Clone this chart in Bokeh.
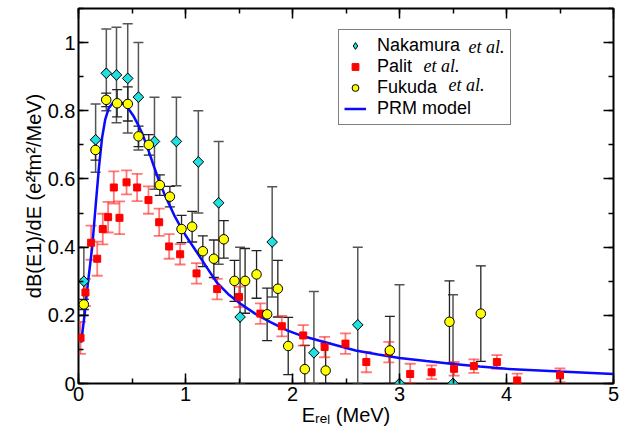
import math
from bokeh.plotting import figure
from bokeh.models import (ColumnDataSource, Whisker, TeeHead, LinearAxis, Range1d,
                          SingleIntervalTicker, Legend, LegendItem, Label, CustomJSTickFormatter)
from bokeh.embed import file_html
from bokeh.resources import INLINE

# ---- data ----
nak_x = [0.05, 0.16, 0.26, 0.355, 0.46, 0.56, 0.71, 0.915, 1.12, 1.31, 1.51, 1.81, 2.2, 2.61, 3.0, 3.5]
nak_y = [0.30, 0.715, 0.91, 0.905, 0.895, 0.84, 0.71, 0.71, 0.65, 0.53, 0.195, 0.415, 0.09, 0.172, 0.0, 0.0]
nak_lo = [0.20, 0.62, 0.80, 0.765, 0.735, 0.685, 0.57, 0.58, 0.50, 0.35, 0.0, 0.254, 0.0, 0.0, 0.0, 0.0]
nak_hi = [0.40, 0.82, 1.04, 1.045, 1.055, 1.0, 0.84, 0.84, 0.80, 0.71, 0.40, 0.577, 0.27, 0.40, 0.29, 0.26]

pal_x = [0.019, 0.065, 0.118, 0.175, 0.227, 0.277, 0.33, 0.383, 0.449, 0.548, 0.654, 0.754, 0.847,
         0.95, 1.103, 1.296, 1.50, 1.70, 1.90, 2.10, 2.30, 2.495, 2.69, 2.90, 3.10, 3.30, 3.51,
         3.695, 3.91, 4.10, 4.50]
pal_y = [0.134, 0.267, 0.413, 0.366, 0.453, 0.488, 0.575, 0.486, 0.59, 0.575, 0.538, 0.473, 0.402,
         0.379, 0.323, 0.277, 0.254, 0.205, 0.168, 0.141, 0.107, 0.117, 0.063, 0.092, 0.028, 0.033,
         0.043, 0.051, 0.063, 0.009, 0.024]
pal_err = [0.047, 0.04, 0.05, 0.05, 0.045, 0.045, 0.047, 0.048, 0.035, 0.04, 0.04, 0.04, 0.036,
           0.03, 0.03, 0.03, 0.03, 0.03, 0.03, 0.03, 0.03, 0.03, 0.03, 0.03, 0.03, 0.02, 0.02,
           0.02, 0.02, 0.02, 0.02]

fuk_x = [0.05, 0.159, 0.259, 0.361, 0.461, 0.561, 0.657, 0.76, 0.854, 0.963, 1.062, 1.162, 1.265,
         1.358, 1.458, 1.557, 1.664, 1.763, 1.863, 1.96, 2.115, 2.31, 2.91, 3.467, 3.76]
fuk_y = [0.232, 0.685, 0.832, 0.822, 0.82, 0.725, 0.70, 0.582, 0.548, 0.453, 0.46, 0.388, 0.366,
         0.423, 0.301, 0.301, 0.32, 0.203, 0.278, 0.11, 0.042, 0.038, 0.097, 0.181, 0.205]
fuk_err = [0.015, 0.03, 0.02, 0.04, 0.05, 0.03, 0.03, 0.03, 0.03, 0.04, 0.045, 0.045, 0.055,
           0.055, 0.06, 0.095, 0.07, 0.077, 0.083, 0.084, 0.07, 0.08, 0.1, 0.12, 0.14]

prm_x = [0.025, 0.06, 0.09, 0.128, 0.16, 0.19, 0.22, 0.25, 0.283, 0.32, 0.36, 0.40, 0.44, 0.48,
         0.517, 0.56, 0.595, 0.635, 0.673, 0.71, 0.75, 0.80, 0.85, 0.90, 0.953, 1.0, 1.1, 1.2,
         1.296, 1.4, 1.514, 1.65, 1.794, 1.95, 2.075, 2.246, 2.4, 2.59, 2.8, 3.0, 3.25, 3.48,
         3.75, 4.0, 4.5, 5.0]
prm_y = [0.12, 0.21, 0.30, 0.40, 0.52, 0.63, 0.72, 0.775, 0.808, 0.823, 0.827, 0.824, 0.815, 0.80,
         0.783, 0.757, 0.734, 0.70, 0.666, 0.632, 0.597, 0.558, 0.524, 0.49, 0.46, 0.435, 0.388,
         0.34, 0.295, 0.262, 0.234, 0.205, 0.18, 0.156, 0.141, 0.126, 0.113, 0.097, 0.085, 0.075,
         0.066, 0.058, 0.05, 0.043, 0.035, 0.028]

x_title = "E\u1d63\u2091\u2097 (MeV)"
y_title = "dB(E1)/dE (e\u00b2fm\u00b2/MeV)"

FONT = "Liberation Sans"

p = figure(width=630, height=430, x_range=Range1d(0, 5), y_range=Range1d(0, 1.1),
           output_backend="svg", toolbar_location=None,
           min_border_left=78, min_border_right=17, min_border_top=8, min_border_bottom=47)
p.grid.visible = False
p.outline_line_color = "black"
p.outline_line_width = 2
p.background_fill_color = "white"
p.border_fill_color = "white"

xt = SingleIntervalTicker(interval=1, num_minor_ticks=2)
yt = SingleIntervalTicker(interval=0.2, num_minor_ticks=2)
fmt = CustomJSTickFormatter(code="return Number(tick.toFixed(2)).toString();")

def style(ax, labels=True):
    ax.axis_line_color = None
    ax.major_tick_in = 10
    ax.major_tick_out = 0
    ax.minor_tick_in = 5
    ax.minor_tick_out = 0
    ax.major_tick_line_color = "black"
    ax.minor_tick_line_color = "black"
    ax.major_tick_line_width = 1.5
    ax.minor_tick_line_width = 1.5
    if labels:
        ax.major_label_text_font = FONT
        ax.major_label_text_font_size = "20px"
        ax.major_label_text_color = "black"
        ax.major_label_standoff = 3
        ax.axis_label_text_font = FONT
        ax.axis_label_text_font_size = "20px"
        ax.axis_label_text_font_style = "normal"
        ax.axis_label_text_color = "black"
        ax.axis_label_standoff = 0
    else:
        ax.major_label_text_font_size = "1px"
        ax.major_label_text_color = None
        ax.major_label_standoff = 0

bx = p.xaxis[0]
ly = p.yaxis[0]
bx.ticker = xt
ly.ticker = yt
bx.formatter = fmt
ly.formatter = fmt
style(bx)
style(ly)
bx.axis_label = x_title
ly.axis_label = y_title

ax_top = LinearAxis(ticker=xt)
style(ax_top, labels=False)
p.add_layout(ax_top, "above")
ax_right = LinearAxis(ticker=yt)
style(ax_right, labels=False)
p.add_layout(ax_right, "right")

# ---- data sources ----
nak_src = ColumnDataSource(dict(x=nak_x, y=nak_y, lo=nak_lo, hi=nak_hi))
pal_src = ColumnDataSource(dict(x=pal_x, y=pal_y,
                                lo=[max(0.0, a - b) for a, b in zip(pal_y, pal_err)],
                                hi=[a + b for a, b in zip(pal_y, pal_err)]))
fuk_src = ColumnDataSource(dict(x=fuk_x, y=fuk_y,
                                lo=[max(0.0, a - b) for a, b in zip(fuk_y, fuk_err)],
                                hi=[a + b for a, b in zip(fuk_y, fuk_err)]))

def whisk(src, color, width, alpha=1.0, size=10):
    w = Whisker(base="x", lower="lo", upper="hi", source=src,
                line_color=color, line_width=width, line_alpha=alpha,
                upper_head=TeeHead(size=size, line_color=color, line_width=width, line_alpha=alpha),
                lower_head=TeeHead(size=size, line_color=color, line_width=width, line_alpha=alpha))
    p.add_layout(w)

whisk(nak_src, "#555555", 1.5)
whisk(fuk_src, "#222222", 1.3)
whisk(pal_src, "#ff2020", 1.8, alpha=0.6, size=11)

prm = p.line(prm_x, prm_y, line_color="#0a0aff", line_width=2.5)

# diamond (used for the legend glyph), hidden beneath the rotated squares
nak_leg = p.scatter("x", "y", source=nak_src, marker="diamond", size=10.5,
                    fill_color="#20e0e0", line_color="black", line_width=1)
nak = p.scatter("x", "y", source=nak_src, marker="square", angle=math.pi / 4, size=7.5,
                fill_color="#20e0e0", line_color="black", line_width=1)
pal = p.scatter("x", "y", source=pal_src, marker="square", size=7,
                fill_color="#ff0000", line_color="#ff0000")
fuk = p.scatter("x", "y", source=fuk_src, marker="circle", size=9.5,
                fill_color="#ffff00", line_color="black", line_width=1)

legend = Legend(items=[LegendItem(label="Nakamura", renderers=[nak_leg]),
                       LegendItem(label="Palit", renderers=[pal]),
                       LegendItem(label="Fukuda", renderers=[fuk]),
                       LegendItem(label="PRM model", renderers=[prm])],
                location=(260, 258), orientation="vertical",
                label_text_font=FONT, label_text_font_size="18px", label_text_color="black",
                glyph_width=22, glyph_height=17, label_height=17, label_width=128,
                spacing=-3, padding=5, margin=0, label_standoff=11,
                border_line_color="black", border_line_width=1.5,
                background_fill_color="white", background_fill_alpha=0.0)
p.add_layout(legend)

for txt, x, y in [("et al.", 390, 336.5), ("et al.", 345, 317.5), ("et al.", 370, 298.5)]:
    p.add_layout(Label(x=x, y=y, x_units="screen", y_units="screen", text=txt, level="overlay",
                       text_font="Liberation Serif", text_font_style="italic",
                       text_font_size="18px", text_baseline="middle", text_color="black"))

open("out.html", "w").write(file_html(p, INLINE))
